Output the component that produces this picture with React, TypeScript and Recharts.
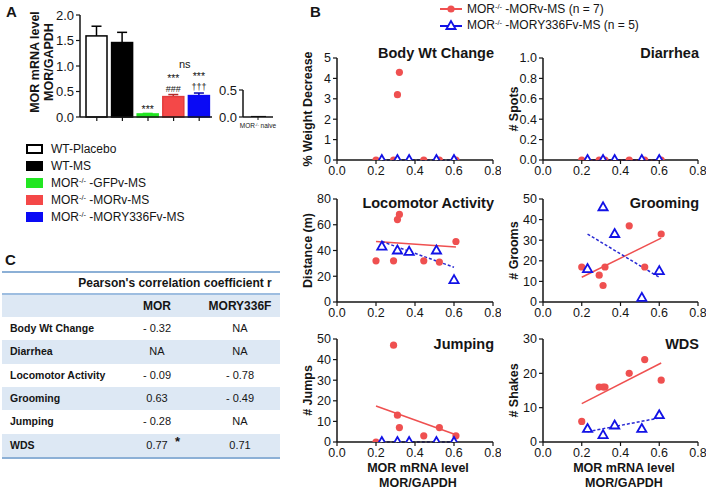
import React from 'react';
import { BarChart, Bar, XAxis, YAxis, ScatterChart, Scatter, ReferenceLine } from 'recharts';

const FONT = '"Liberation Sans", Arial, Helvetica, sans-serif';
const INK = '#151515';

// ---------- Panel A data ----------
const groupNames = ['WT-Placebo', 'WT-MS', 'GFPv-MS', 'MORv-MS', 'MORY336Fv-MS'];
const legendMain = ['WT-Placebo', 'WT-MS', 'MOR', 'MOR', 'MOR'];
const legendSup = ['', '', '-/-', '-/-', '-/-'];
const legendTail = ['', '', ' -GFPv-MS', ' -MORv-MS', ' -MORY336Fv-MS'];
const mrnaMean = [1.59, 1.46, 0.06, 0.4, 0.42];
const mrnaSem = [0.19, 0.2, 0.01, 0.04, 0.05];
const barFill = ['#ffffff', '#000000', '#22e622', '#f44848', '#0a0af5'];
const barStroke = ['#000000', '#000000', '#22e622', '#e23c3c', '#0a0af5'];
const errStroke = ['#000000', '#000000', '#22e622', '#b02a2a', '#0000b0'];
const sigRow1 = ['', '', '***', '***', '***'];
const sigRow2 = ['', '', '', '###', '\u2020\u2020\u2020'];
const yTicksA = [0, 0.5, 1, 1.5, 2];
const naiveName = ['MOR-/- naive'];
const naiveMean = [0.02];
const naiveTicks = [0, 0.5];

// ---------- Panel B data ----------
const xTicksB = [0, 0.2, 0.4, 0.6, 0.8];
const morX = [0.2, 0.29, 0.31, 0.32, 0.445, 0.525, 0.61];
const y336fX = [0.23, 0.31, 0.37, 0.51, 0.6];
const fitXMor = [0.2, 0.61];
const fitXY336f = [0.23, 0.6];

const bodyMor = [0, 0, 3.2, 4.3, 0, 0, 0];
const bodyY336f = [0, 0, 0, 0, 0];
const bodyFitY336f = [0, 0];

const diarMor = [0, 0, 0, 0, 0, 0, 0];
const diarY336f = [0, 0, 0, 0, 0];
const diarFitMor = [0, 0];
const diarFitY336f = [0, 0];

const locoMor = [32, 32, 64, 68, 32, 31, 47];
const locoY336f = [43, 40, 39, 40, 17];
const locoFitMor = [47, 42.7];
const locoFitY336f = [47, 27];

const groomMor = [17, 13, 8, 17, 37, 17, 33];
const groomY336f = [16, 46, 33, 2, 15];
const groomFitMor = [12, 31];
const groomFitY336f = [33, 12];

const jumpMor = [0, 47, 13, 7, 3, 7, 3];
const jumpY336f = [0, 0, 0, 0, 0];
const jumpFitMor = [17.5, 3.5];
const jumpFitY336f = [0, 0];

const wdsMor = [6, 16, 16, 16, 20, 24, 18];
const wdsY336f = [3.8, 2, 4.8, 3.8, 7.8];
const wdsFitMor = [11.2, 23];
const wdsFitY336f = [3, 7];

// ---------- Panel C data ----------
const tableMeasures = ['Body Wt Change', 'Diarrhea', 'Locomotor Activity', 'Grooming', 'Jumping', 'WDS'];
const rMor = ['- 0.32', 'NA', '- 0.09', '0.63', '- 0.28', '0.77'];
const rMorSig = ['', '', '', '', '', '*'];
const rY336f = ['NA', 'NA', '- 0.78', '- 0.49', 'NA', '0.71'];

const RED = '#ef5050';
const BLUE = '#1212e6';
const BLUE_LINE = '#2a2ad4';

const toPts = (xs: number[], ys: number[]) => xs.map((x, i) => ({ x, y: ys[i] }));

function BarShape(p: any) {
  const { x, y, width, height, index } = p;
  const i = index as number;
  const ppu = height / mrnaMean[i];
  const cx = x + width / 2;
  const errTop = y - mrnaSem[i] * ppu;
  const has2 = sigRow2[i] !== '';
  return (
    <g>
      <line x1={cx} x2={cx} y1={y} y2={errTop} stroke={errStroke[i]} strokeWidth={1.5} />
      <line x1={cx - 5} x2={cx + 5} y1={errTop} y2={errTop} stroke={errStroke[i]} strokeWidth={1.5} />
      <rect x={x} y={y} width={width} height={height} fill={barFill[i]} stroke={barStroke[i]} strokeWidth={1.5} />
      {sigRow1[i] && (
        <text x={cx} y={has2 ? errTop - 13 : errTop} textAnchor="middle" fontSize={10.5} fill={INK} fontFamily={FONT}>
          {sigRow1[i]}
        </text>
      )}
      {has2 && (
        <text x={cx} y={errTop - 3} textAnchor="middle" fontSize={9} fill={INK} fontFamily={FONT}>
          {sigRow2[i]}
        </text>
      )}
    </g>
  );
}

const Circle = (p: any) => <circle cx={p.cx} cy={p.cy} r={3.6} fill={RED} />;
const Tri = (p: any) => (
  <polygon
    points={`${p.cx},${p.cy - 5} ${p.cx - 4.6},${p.cy + 3} ${p.cx + 4.6},${p.cy + 3}`}
    fill="#ffffff"
    stroke={BLUE}
    strokeWidth={1.8}
  />
);

const tickStyle = { fontSize: 13, fill: INK, fontFamily: FONT };
const tickStyleB = { fontSize: 12.5, fill: INK, fontFamily: FONT };

type PanelCfg = {
  title: string;
  yLabel: string;
  px: number;
  py: number;
  pw: number;
  ph: number;
  dom: [number, number];
  ticks: number[];
  dec: number;
  red: number[];
  blue: number[];
  redFit: number[] | null;
  blueFit: number[] | null;
  titleY: number;
};

const panels: PanelCfg[] = [
  { title: 'Body Wt Change', yLabel: '% Weight Decrease', px: 337, py: 58, pw: 156, ph: 102, dom: [0, 5], ticks: [0, 1, 2, 3, 4, 5], dec: 0, red: bodyMor, blue: bodyY336f, redFit: null, blueFit: bodyFitY336f, titleY: 53 },
  { title: 'Diarrhea', yLabel: '# Spots', px: 543, py: 58, pw: 155, ph: 102, dom: [0, 1], ticks: [0, 0.2, 0.4, 0.6, 0.8, 1], dec: 1, red: diarMor, blue: diarY336f, redFit: diarFitMor, blueFit: diarFitY336f, titleY: 53 },
  { title: 'Locomotor Activity', yLabel: 'Distance (m)', px: 337, py: 199, pw: 156, ph: 103, dom: [0, 80], ticks: [0, 20, 40, 60, 80], dec: 0, red: locoMor, blue: locoY336f, redFit: locoFitMor, blueFit: locoFitY336f, titleY: 203 },
  { title: 'Grooming', yLabel: '# Grooms', px: 543, py: 199, pw: 155, ph: 103, dom: [0, 50], ticks: [0, 10, 20, 30, 40, 50], dec: 0, red: groomMor, blue: groomY336f, redFit: groomFitMor, blueFit: groomFitY336f, titleY: 203 },
  { title: 'Jumping', yLabel: '# Jumps', px: 337, py: 339, pw: 156, ph: 103, dom: [0, 50], ticks: [0, 10, 20, 30, 40, 50], dec: 0, red: jumpMor, blue: jumpY336f, redFit: jumpFitMor, blueFit: jumpFitY336f, titleY: 344 },
  { title: 'WDS', yLabel: '# Shakes', px: 543, py: 339, pw: 155, ph: 103, dom: [0, 30], ticks: [0, 10, 20, 30], dec: 0, red: wdsMor, blue: wdsY336f, redFit: wdsFitMor, blueFit: wdsFitY336f, titleY: 344 },
];

function ScatterPanel({ c }: { c: PanelCfg }) {
  const ml = 45;
  const mt = 12;
  const mr = 8;
  const xh = 26;
  return (
    <>
      <div style={{ position: 'absolute', left: c.px - ml, top: c.py - mt }}>
        <ScatterChart width={ml + c.pw + mr} height={mt + c.ph + xh} margin={{ top: mt, right: mr, bottom: 0, left: 0 }}>
          <XAxis
            type="number"
            dataKey="x"
            domain={[0, 0.8]}
            ticks={xTicksB}
            tickFormatter={(v: number) => v.toFixed(1)}
            height={xh}
            tickSize={4}
            tickMargin={2}
            interval={0}
            axisLine={{ stroke: INK, strokeWidth: 1.5 }}
            tickLine={{ stroke: INK, strokeWidth: 1.2 }}
            tick={tickStyleB}
            allowDataOverflow
          />
          <YAxis
            type="number"
            dataKey="y"
            domain={c.dom}
            ticks={c.ticks}
            interval={0}
            tickFormatter={(v: number) => v.toFixed(c.dec)}
            width={ml}
            tickSize={4}
            tickMargin={2}
            axisLine={{ stroke: INK, strokeWidth: 1.5 }}
            tickLine={{ stroke: INK, strokeWidth: 1.2 }}
            tick={tickStyleB}
            allowDataOverflow
            label={{
              content: (lp: any) => {
                const vb = lp.viewBox || {};
                const cx = (vb.x || 0) + 16;
                const cy = (vb.y || 0) + (vb.height || 0) / 2;
                return (
                  <text
                    transform={`rotate(-90 ${cx} ${cy})`}
                    x={cx}
                    y={cy}
                    textAnchor="middle"
                    dominantBaseline="central"
                    fontSize={12.5}
                    fontWeight="bold"
                    fontFamily={FONT}
                    fill={INK}
                  >
                    {c.yLabel}
                  </text>
                );
              },
            }}
          />
          {c.redFit && (
            <ReferenceLine
              segment={[{ x: fitXMor[0], y: c.redFit[0] }, { x: fitXMor[1], y: c.redFit[1] }]}
              stroke={RED}
              strokeWidth={1.5}
              ifOverflow="visible"
            />
          )}
          {c.blueFit && (
            <ReferenceLine
              segment={[{ x: fitXY336f[0], y: c.blueFit[0] }, { x: fitXY336f[1], y: c.blueFit[1] }]}
              stroke={BLUE_LINE}
              strokeWidth={1.5}
              strokeDasharray="3 2"
              ifOverflow="visible"
            />
          )}
          <Scatter data={toPts(morX, c.red)} shape={Circle} isAnimationActive={false} />
          <Scatter data={toPts(y336fX, c.blue)} shape={Tri} isAnimationActive={false} />
        </ScatterChart>
      </div>
      <div
        style={{
          position: 'absolute',
          right: 709 - (c.px + c.pw) - 1,
          top: c.titleY - 9,
          fontSize: 14.5,
          fontWeight: 'bold',
          lineHeight: '18px',
          whiteSpace: 'nowrap',
          color: INK,
        }}
      >
        {c.title}
      </div>
    </>
  );
}

const barData = groupNames.map((g, i) => ({ g, v: mrnaMean[i] }));
const naiveData = naiveName.map((g, i) => ({ g, v: naiveMean[i] }));

const Sup = ({ t }: { t: string }) => (
  <span style={{ fontSize: '0.62em', verticalAlign: '0.55em' }}>{t}</span>
);

export default function App() {
  const rowH = 23.3;
  const bodyTop = 317;
  return (
    <div
      style={{
        position: 'absolute',
        left: 0,
        top: 0,
        width: 709,
        height: 490,
        background: '#ffffff',
        overflow: 'hidden',
        fontFamily: FONT,
        color: INK,
      }}
    >
      {/* Panel letters */}
      <div style={{ position: 'absolute', left: 6, top: 3, fontSize: 15, fontWeight: 'bold' }}>A</div>
      <div style={{ position: 'absolute', left: 310, top: 3, fontSize: 15, fontWeight: 'bold' }}>B</div>
      <div style={{ position: 'absolute', left: 5, top: 251, fontSize: 15, fontWeight: 'bold' }}>C</div>

      {/* Panel A bar chart */}
      <div style={{ position: 'absolute', left: 0, top: 0 }}>
        <BarChart width={217} height={135} data={barData} margin={{ top: 15, right: 5, left: 0, bottom: 0 }} barSize={21}>
          <XAxis
            dataKey="g"
            height={18}
            padding={{ left: 4, right: 0 }}
            tickFormatter={() => ''}
            tickSize={4}
            axisLine={{ stroke: INK, strokeWidth: 1.5 }}
            tickLine={{ stroke: INK, strokeWidth: 1.2 }}
          />
          <YAxis
            domain={[0, 2]}
            ticks={yTicksA}
            interval={0}
            width={80}
            tickSize={4}
            tickMargin={2}
            tickFormatter={(v: number) => v.toFixed(1)}
            axisLine={{ stroke: INK, strokeWidth: 1.5 }}
            tickLine={{ stroke: INK, strokeWidth: 1.2 }}
            tick={tickStyle}
            label={{
              content: (lp: any) => {
                const vb = lp.viewBox || {};
                const cy = (vb.y || 0) + (vb.height || 0) / 2 - 4;
                return (
                  <g>
                    <text transform={`rotate(-90 35 ${cy})`} x={35} y={cy} textAnchor="middle" dominantBaseline="central" fontSize={12.5} fontWeight="bold" fontFamily={FONT} fill={INK}>
                      MOR mRNA level
                    </text>
                    <text transform={`rotate(-90 49 ${cy})`} x={49} y={cy} textAnchor="middle" dominantBaseline="central" fontSize={12.5} fontWeight="bold" fontFamily={FONT} fill={INK}>
                      MOR/GAPDH
                    </text>
                  </g>
                );
              },
            }}
          />
          <Bar dataKey="v" shape={BarShape} isAnimationActive={false} />
        </BarChart>
      </div>
      <div style={{ position: 'absolute', left: 179, top: 58, fontSize: 11 }}>ns</div>

      {/* Naive mini chart */}
      <div style={{ position: 'absolute', left: 200, top: 80 }}>
        <BarChart width={80} height={55} data={naiveData} margin={{ top: 10, right: 7, left: 0, bottom: 0 }} barSize={15}>
          <XAxis
            dataKey="g"
            height={18}
            tickSize={3}
            tickFormatter={() => ''}
            axisLine={{ stroke: INK, strokeWidth: 1.5 }}
            tickLine={{ stroke: INK, strokeWidth: 1 }}
          />
          <YAxis
            domain={[0, 0.5]}
            ticks={naiveTicks}
            interval={0}
            width={43}
            tickSize={4}
            tickMargin={2}
            tickFormatter={(v: number) => v.toFixed(1)}
            axisLine={{ stroke: INK, strokeWidth: 1.5 }}
            tickLine={{ stroke: INK, strokeWidth: 1.2 }}
            tick={tickStyle}
          />
          <Bar dataKey="v" fill="#000000" isAnimationActive={false} />
        </BarChart>
      </div>
      <div style={{ position: 'absolute', left: 228, width: 60, top: 122, textAlign: 'center', fontSize: 6.5, whiteSpace: 'nowrap' }}>
        MOR<Sup t="-/-" /> naive
      </div>

      {/* Panel A legend */}
      {legendMain.map((m, i) => (
        <div key={i} style={{ position: 'absolute', left: 26, top: 149 + i * 17 - 8, height: 16, display: 'flex', alignItems: 'center' }}>
          <div
            style={{
              width: 17,
              height: 10,
              boxSizing: 'border-box',
              background: barFill[i],
              border: i === 0 ? '2px solid #000' : 'none',
            }}
          />
          <div style={{ marginLeft: 8, fontSize: 12, whiteSpace: 'nowrap' }}>
            {m}
            {legendSup[i] && <Sup t={legendSup[i]} />}
            {legendTail[i]}
          </div>
        </div>
      ))}

      {/* Panel B legend */}
      <div style={{ position: 'absolute', left: 438, top: 1, display: 'flex', alignItems: 'center', height: 16 }}>
        <svg width={26} height={12}>
          <line x1={2} x2={24} y1={6} y2={6} stroke={RED} strokeWidth={2} />
          <circle cx={13} cy={6} r={3.6} fill={RED} />
        </svg>
        <div style={{ marginLeft: 3, fontSize: 12, whiteSpace: 'nowrap' }}>
          MOR<Sup t="-/-" /> -MORv-MS (n = 7)
        </div>
      </div>
      <div style={{ position: 'absolute', left: 438, top: 17, display: 'flex', alignItems: 'center', height: 16 }}>
        <svg width={26} height={12}>
          <line x1={2} x2={24} y1={7} y2={7} stroke={BLUE} strokeWidth={2} />
          <polygon points="13,2 8.4,10 17.6,10" fill="#fff" stroke={BLUE} strokeWidth={1.8} />
        </svg>
        <div style={{ marginLeft: 3, fontSize: 12, whiteSpace: 'nowrap' }}>
          MOR<Sup t="-/-" /> -MORY336Fv-MS (n = 5)
        </div>
      </div>

      {panels.map((c, i) => (
        <ScatterPanel key={i} c={c} />
      ))}

      {/* Bottom axis titles */}
      {[337 + 78 + 3, 543 + 78 + 3].map((cx, i) => (
        <div
          key={i}
          style={{
            position: 'absolute',
            left: cx - 60,
            width: 120,
            top: 461,
            textAlign: 'center',
            fontSize: 12.5,
            fontWeight: 'bold',
            lineHeight: '15px',
          }}
        >
          MOR mRNA level
          <br />
          MOR/GAPDH
        </div>
      ))}

      {/* Panel C table */}
      <div style={{ position: 'absolute', left: 2, top: 271, width: 278, height: 2, background: '#8cb0d6' }} />
      <div style={{ position: 'absolute', left: 70, width: 210, top: 275, textAlign: 'center', fontSize: 12, fontWeight: 'bold', lineHeight: '16px', whiteSpace: 'nowrap' }}>
        Pearson's correlation coefficient r
      </div>
      <div style={{ position: 'absolute', left: 2, top: 293, width: 278, height: 1.5, background: '#9dbde0' }} />
      <div style={{ position: 'absolute', left: 2, top: 294.5, width: 278, height: 22.5, background: '#dde8f4' }} />
      <div style={{ position: 'absolute', left: 127, width: 60, top: 298, textAlign: 'center', fontSize: 12, fontWeight: 'bold', lineHeight: '16px' }}>MOR</div>
      <div style={{ position: 'absolute', left: 200, width: 80, top: 298, textAlign: 'center', fontSize: 12, fontWeight: 'bold', lineHeight: '16px' }}>MORY336F</div>
      {tableMeasures.map((m, i) => (
        <div
          key={i}
          style={{
            position: 'absolute',
            left: 2,
            top: bodyTop + i * rowH,
            width: 278,
            height: rowH,
            background: i % 2 === 1 ? '#dde8f4' : '#ffffff',
          }}
        >
          <div style={{ position: 'absolute', left: 8, top: 0, lineHeight: `${rowH}px`, fontSize: 10.5, fontWeight: 'bold', whiteSpace: 'nowrap' }}>{m}</div>
          <div style={{ position: 'absolute', left: 125, width: 60, top: 0, lineHeight: `${rowH}px`, textAlign: 'center', fontSize: 11 }}>
            {rMor[i]}
          </div>
          {rMorSig[i] && (
            <div style={{ position: 'absolute', left: 173, top: -4, lineHeight: `${rowH}px`, fontSize: 13, fontWeight: 'bold' }}>{rMorSig[i]}</div>
          )}
          <div style={{ position: 'absolute', left: 198, width: 80, top: 0, lineHeight: `${rowH}px`, textAlign: 'center', fontSize: 11 }}>
            {rY336f[i]}
          </div>
        </div>
      ))}
      <div style={{ position: 'absolute', left: 2, top: bodyTop + 6 * rowH, width: 278, height: 2, background: '#8cb0d6' }} />
    </div>
  );
}
